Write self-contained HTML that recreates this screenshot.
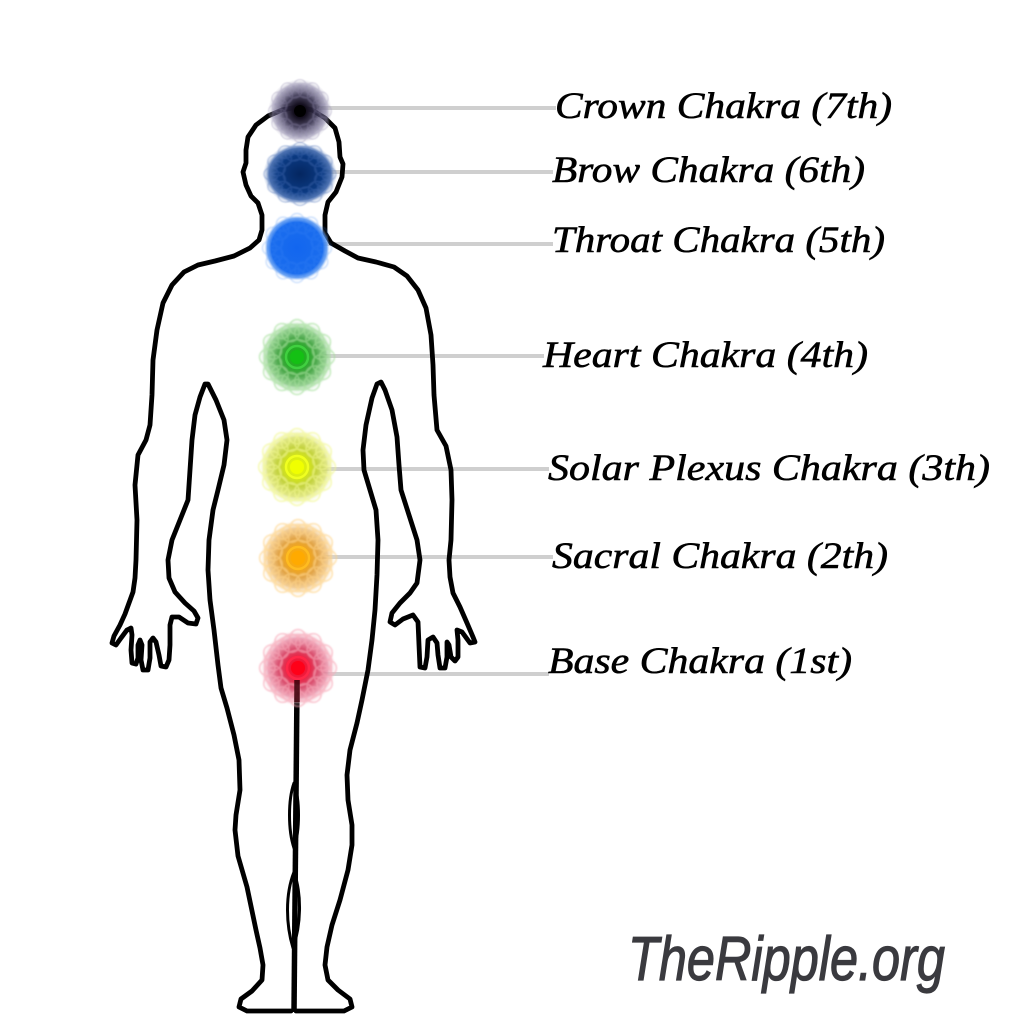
<!DOCTYPE html>
<html><head><meta charset="utf-8"><style>
html,body{margin:0;padding:0;background:#fff;}
svg{display:block;}
.lb{font-family:"Liberation Serif",serif;font-style:italic;font-size:37px;fill:#000;stroke:#000;stroke-width:0.6px;}
.logo{font-family:"Liberation Sans",sans-serif;font-style:italic;font-size:62px;fill:#3a3a3f;stroke:#3a3a3f;stroke-width:1.2px;}
</style></head><body>
<svg width="1024" height="1024" viewBox="0 0 1024 1024" xmlns="http://www.w3.org/2000/svg">
<defs>
<g id="m" fill="none" stroke="currentColor" stroke-width="1.3">
<circle cx="19.3" cy="5.2" r="7"/><circle cx="14.1" cy="14.1" r="7"/><circle cx="5.2" cy="19.3" r="7"/><circle cx="-5.2" cy="19.3" r="7"/>
<circle cx="-14.1" cy="14.1" r="7"/><circle cx="-19.3" cy="5.2" r="7"/><circle cx="-19.3" cy="-5.2" r="7"/><circle cx="-14.1" cy="-14.1" r="7"/>
<circle cx="-5.2" cy="-19.3" r="7"/><circle cx="5.2" cy="-19.3" r="7"/><circle cx="14.1" cy="-14.1" r="7"/><circle cx="19.3" cy="-5.2" r="7"/>
<circle cx="24" cy="0" r="6"/><circle cx="20.8" cy="12" r="6"/><circle cx="12" cy="20.8" r="6"/><circle cx="0" cy="24" r="6"/>
<circle cx="-12" cy="20.8" r="6"/><circle cx="-20.8" cy="12" r="6"/><circle cx="-24" cy="0" r="6"/><circle cx="-20.8" cy="-12" r="6"/>
<circle cx="-12" cy="-20.8" r="6"/><circle cx="0" cy="-24" r="6"/><circle cx="12" cy="-20.8" r="6"/><circle cx="20.8" cy="-12" r="6"/>
<circle r="14"/><circle r="26"/>
</g>
<radialGradient id="gCrown"><stop offset="0" stop-color="#000"/><stop offset=".22" stop-color="#15101f"/><stop offset=".5" stop-color="#35304e" stop-opacity=".9"/><stop offset=".8" stop-color="#736d92" stop-opacity=".6"/><stop offset="1" stop-color="#b8b4cc" stop-opacity="0"/></radialGradient>
<radialGradient id="gBrow"><stop offset="0" stop-color="#042660"/><stop offset=".6" stop-color="#0b3a82"/><stop offset=".83" stop-color="#2e5aa2" stop-opacity=".85"/><stop offset="1" stop-color="#a8bce0" stop-opacity="0"/></radialGradient>
<radialGradient id="gThroat"><stop offset="0" stop-color="#1266ef"/><stop offset=".78" stop-color="#1b6dee"/><stop offset=".9" stop-color="#4a8ef0" stop-opacity=".75"/><stop offset="1" stop-color="#c0d8f8" stop-opacity="0"/></radialGradient>
<radialGradient id="gHeart"><stop offset="0" stop-color="#0cbc0c"/><stop offset=".22" stop-color="#22ae22"/><stop offset=".5" stop-color="#44a444"/><stop offset=".78" stop-color="#7cc478" stop-opacity=".8"/><stop offset="1" stop-color="#d0ecd0" stop-opacity="0"/></radialGradient>
<radialGradient id="gSolar"><stop offset="0" stop-color="#f0ff00"/><stop offset=".22" stop-color="#dcee10"/><stop offset=".5" stop-color="#c0d038"/><stop offset=".78" stop-color="#d8e068" stop-opacity=".8"/><stop offset="1" stop-color="#f4f6c0" stop-opacity="0"/></radialGradient>
<radialGradient id="gSacral"><stop offset="0" stop-color="#ffaa00"/><stop offset=".22" stop-color="#f8aa10"/><stop offset=".5" stop-color="#e0a040"/><stop offset=".78" stop-color="#eec07a" stop-opacity=".8"/><stop offset="1" stop-color="#fbe8cc" stop-opacity="0"/></radialGradient>
<radialGradient id="gBase"><stop offset="0" stop-color="#ff0018"/><stop offset=".22" stop-color="#f01838"/><stop offset=".5" stop-color="#d84868"/><stop offset=".78" stop-color="#e88ca4" stop-opacity=".8"/><stop offset="1" stop-color="#f8d0d8" stop-opacity="0"/></radialGradient>
<filter id="bl" x="-20%" y="-20%" width="140%" height="140%"><feGaussianBlur stdDeviation="0.6"/></filter>
</defs>

<rect width="1024" height="1024" fill="#fff"/>

<!-- connectors -->
<g stroke="#cfcfcf" stroke-width="4">
<line x1="318" y1="108" x2="556" y2="108"/>
<line x1="318" y1="172" x2="553" y2="172"/>
<line x1="318" y1="244" x2="553" y2="244"/>
<line x1="318" y1="356" x2="544" y2="356"/>
<line x1="318" y1="469" x2="549" y2="469"/>
<line x1="318" y1="557" x2="553" y2="557"/>
<line x1="318" y1="674" x2="549" y2="674"/>
</g>

<!-- body outline -->
<g fill="none" stroke="#000" stroke-width="4.8" stroke-linejoin="round" stroke-linecap="round">
<path d="M291,1011 L247,1011 L239,1007 L241,999 L252,991 L262,980 L263,965 L260,948 L256,930 L247,887 L238,856 L235,830 L236,815 L240,790 L239,760 L234,735 L227,708 L221,688 L218,665 L214,630 L210,600 L208,570 L209,540 L213,510 L218,490 L224,465 L227,440 L224,420 L216,400 L208,384 L205,384 L200,397 L195,415 L192,440 L190,470 L188,500 L180,520 L172,540 L168,560
L169,578 L175,592 L185,603 L194,611 L198,618 L196,624 L188,623 L179,617 L172,617 L170,625 L170,645 L169,660 L166,667 L161,666 L159,655 L156,642 L153,638 L150,642 L150,658 L148,670 L143,670 L141,660 L142,645 L140,640 L138,645 L138,658 L136,664 L132,663 L131,650 L132,635 L131,628 L127,630 L121,638 L116,645 L112,643 L114,636 L120,625 L125,614 L129,603 L133,592 L135,578 L136,560
L137,520 L135,485 L138,455 L146,440 L150,425 L152,395 L153,360 L157,330 L163,303 L172,285 L184,272 L198,265 L215,261 L234,256 L250,248 L259,240 L262,230 L262,215 L258,203 L251,196 L246,185 L243,172 L246,163 L246,150 L248,137 L256,125 L268,116 L282,110 L298,107 L312,110 L325,118 L335,128 L339,142 L340,157 L343,164 L342,177 L336,192 L328,202 L325,215 L325,233 L331,243 L345,251 L358,258 L376,262 L394,267 L407,276 L418,290 L426,308 L431,335 L433,365 L434,395 L437,430 L446,446 L451,470 L452,500 L451,540 L449,560
L450,577 L453,593 L460,607 L467,623 L473,637 L475,642 L470,643 L462,632 L457,630 L458,640 L458,657 L455,661 L451,657 L449,645 L447,642 L447,657 L445,668 L440,668 L438,655 L437,643 L433,637 L428,640 L427,657 L425,668 L420,667 L419,645 L418,622 L413,615 L403,619 L395,625 L390,622 L392,613 L400,603 L410,593 L417,583 L420,560
L417,540 L409,515 L401,490 L399,465 L397,437 L392,410 L385,390 L381,382 L377,384 L372,398 L366,425 L363,450 L364,470 L370,490 L376,510 L378,540 L377,575 L375,610 L372,640 L368,670 L362,700 L357,723 L350,750 L347,775 L348,800 L352,825 L352,845 L348,870 L340,900 L332,925 L327,947 L325,965 L328,980 L338,990 L350,999 L352,1007 L344,1011 L296,1011"/>
<path stroke-width="3" d="M294,783 C288,800 288,830 294,848 C300,830 300,800 294,783 Z"/>
<path stroke-width="3" d="M294,872 C285,895 286,925 293,948 C301,925 302,895 294,872 Z"/>
</g>
<line x1="297" y1="688" x2="294" y2="1012" stroke="#000" stroke-width="5.5"/>

<!-- chakras -->
<g>
<circle cx="300" cy="111" r="32" fill="url(#gCrown)"/>
<use href="#m" color="#9890b4" opacity=".3" filter="url(#bl)" transform="translate(300 111) scale(1.05)"/>
<circle cx="300" cy="111" r="6" fill="#000"/>

<ellipse cx="300" cy="174" rx="37" ry="31" fill="url(#gBrow)"/>
<use href="#m" color="#4a70b8" opacity=".35" filter="url(#bl)" transform="translate(300 174) scale(1.2 1.05)"/>

<circle cx="297" cy="248" r="33" fill="url(#gThroat)"/>
<use href="#m" color="#3a86f4" opacity=".25" filter="url(#bl)" transform="translate(297 248) scale(1.15)"/>

<circle cx="297" cy="357" r="37" fill="url(#gHeart)"/>
<use href="#m" color="#a6e09c" opacity=".6" filter="url(#bl)" transform="translate(297 357) scale(1.25)"/>
<circle cx="297" cy="357" r="11" fill="none" stroke="#40d040" stroke-width="2.5"/>
<circle cx="297" cy="357" r="7" fill="#14c014"/>

<circle cx="297" cy="467" r="38" fill="url(#gSolar)"/>
<use href="#m" color="#f2f890" opacity=".6" filter="url(#bl)" transform="translate(297 467) scale(1.28)"/>
<circle cx="297" cy="467" r="11" fill="none" stroke="#f0ff20" stroke-width="2.5"/>
<circle cx="297" cy="467" r="7" fill="#f0ff00"/>

<circle cx="298" cy="558" r="38" fill="url(#gSacral)"/>
<use href="#m" color="#ffd488" opacity=".6" filter="url(#bl)" transform="translate(298 558) scale(1.28)"/>
<circle cx="298" cy="558" r="11" fill="none" stroke="#ffbc20" stroke-width="2.5"/>
<circle cx="298" cy="558" r="7" fill="#ffaa00"/>

<circle cx="298" cy="668" r="38" fill="url(#gBase)"/>
<use href="#m" color="#f8a8b8" opacity=".6" filter="url(#bl)" transform="translate(298 668) scale(1.28)"/>
<circle cx="298" cy="668" r="11" fill="none" stroke="#ff2848" stroke-width="2.5"/>
<circle cx="298" cy="668" r="7" fill="#ff0018"/>
</g>
<line x1="297" y1="680" x2="297" y2="702" stroke="#3a0008" stroke-width="5.5" opacity=".85"/>

<!-- labels -->
<g>
<text class="lb" x="555" y="118" textLength="337" lengthAdjust="spacingAndGlyphs">Crown Chakra (7th)</text>
<text class="lb" x="552" y="182" textLength="313" lengthAdjust="spacingAndGlyphs">Brow Chakra (6th)</text>
<text class="lb" x="552" y="252" textLength="333" lengthAdjust="spacingAndGlyphs">Throat Chakra (5th)</text>
<text class="lb" x="543" y="367" textLength="325" lengthAdjust="spacingAndGlyphs">Heart Chakra (4th)</text>
<text class="lb" x="548" y="480" textLength="442" lengthAdjust="spacingAndGlyphs">Solar Plexus Chakra (3th)</text>
<text class="lb" x="552" y="568" textLength="336" lengthAdjust="spacingAndGlyphs">Sacral Chakra (2th)</text>
<text class="lb" x="548" y="673" textLength="304" lengthAdjust="spacingAndGlyphs">Base Chakra (1st)</text>
</g>

<text class="logo" x="628" y="980" textLength="317" lengthAdjust="spacingAndGlyphs">TheRipple.org</text>
</svg>
</body></html>
